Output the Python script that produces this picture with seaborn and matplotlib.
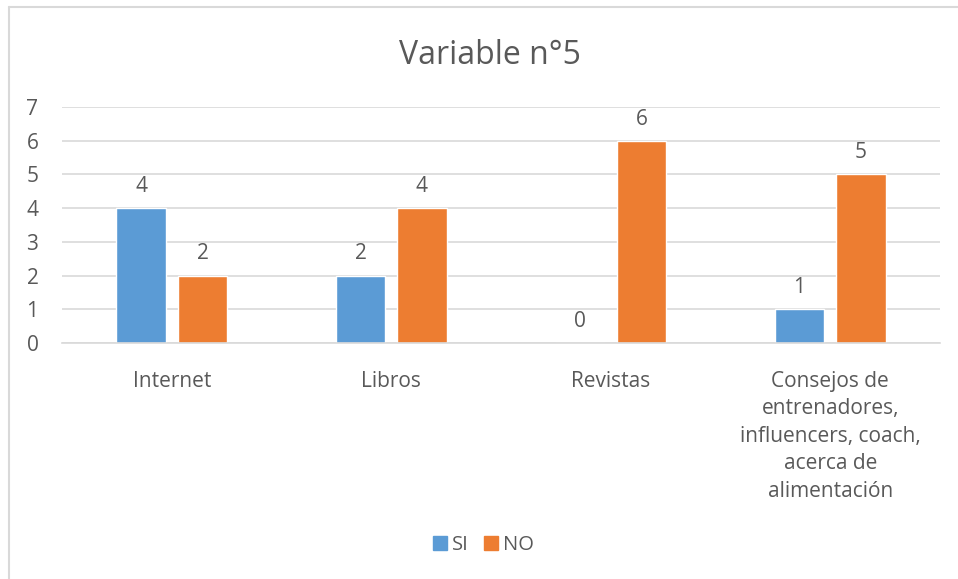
import pandas as pd
import matplotlib.pyplot as plt
import seaborn as sns
from matplotlib.lines import Line2D
from matplotlib.transforms import blended_transform_factory

categorias = ['Internet', 'Libros', 'Revistas',
              'Consejos de\nentrenadores,\ninfluencers, coach,\nacerca de\nalimentación']
si = [4, 2, 0, 1]
no = [2, 4, 6, 5]
series = ['SI', 'NO']
colores = ['#5b9bd5', '#ed7d31']

df = pd.DataFrame({
    'categoria': categorias * 2,
    'valor': si + no,
    'serie': ['SI'] * len(si) + ['NO'] * len(no),
})

sns.set_style('white')
plt.rcParams['font.family'] = ['Open Sans', 'DejaVu Sans']
texto = '#595959'
fs = 15

fig = plt.figure(figsize=(9.58, 5.79), dpi=100)
ax = fig.add_axes([62 / 958, 1 - 343 / 579, 878 / 958, 236 / 579])

sns.barplot(data=df, x='categoria', y='valor', hue='serie', hue_order=series,
            palette=colores, width=0.56, gap=0.2, ax=ax, legend=False,
            saturation=1, order=categorias)

for cont in ax.containers:
    ax.bar_label(cont, padding=8, fontsize=fs, color=texto)

ax.set_xlim(-0.5, 3.5)
ax.set_ylim(0, 7)
ax.set_yticks(range(0, 8))
ax.yaxis.grid(True, color='#d9d9d9', linewidth=1.2)
ax.set_axisbelow(True)
for s in ['top', 'right', 'left']:
    ax.spines[s].set_visible(False)
ax.spines['bottom'].set_color('#d9d9d9')
ax.spines['bottom'].set_linewidth(1.2)
ax.set_xlabel('')
ax.set_ylabel('')
ax.tick_params(axis='y', length=0, pad=17, labelsize=fs, labelcolor=texto)
ax.tick_params(axis='x', length=0, labelbottom=False)

# etiquetas de categoría con interlineado amplio
trans = blended_transform_factory(ax.transData, fig.transFigure)
for i, cat in enumerate(categorias):
    ax.text(i, 1 - 371 / 579, cat, transform=trans, ha='center', va='top',
            fontsize=fs, color=texto, linespacing=1.4)

fig.text(0.511, 1 - 55 / 579, 'Variable n°5', ha='center', va='center',
         fontsize=23, color=texto)

handles = [Line2D([], [], marker='s', linestyle='', markersize=10,
                  markerfacecolor=c, markeredgecolor=c) for c in colores]
fig.legend(handles, series, loc='center', bbox_to_anchor=(482 / 958, 1 - 545 / 579),
           ncol=2, frameon=False, fontsize=14.5, labelcolor=texto,
           handletextpad=0.1, columnspacing=0.6, handlelength=1.0)

# marco del gráfico
fig.add_artist(Line2D([9 / 958, 9 / 958], [0, 1 - 7 / 579], transform=fig.transFigure,
                      color='#d9d9d9', linewidth=1.5))
fig.add_artist(Line2D([9 / 958, 1], [1 - 7 / 579, 1 - 7 / 579], transform=fig.transFigure,
                      color='#d9d9d9', linewidth=1.5))

fig.savefig('out.png', dpi=100)
